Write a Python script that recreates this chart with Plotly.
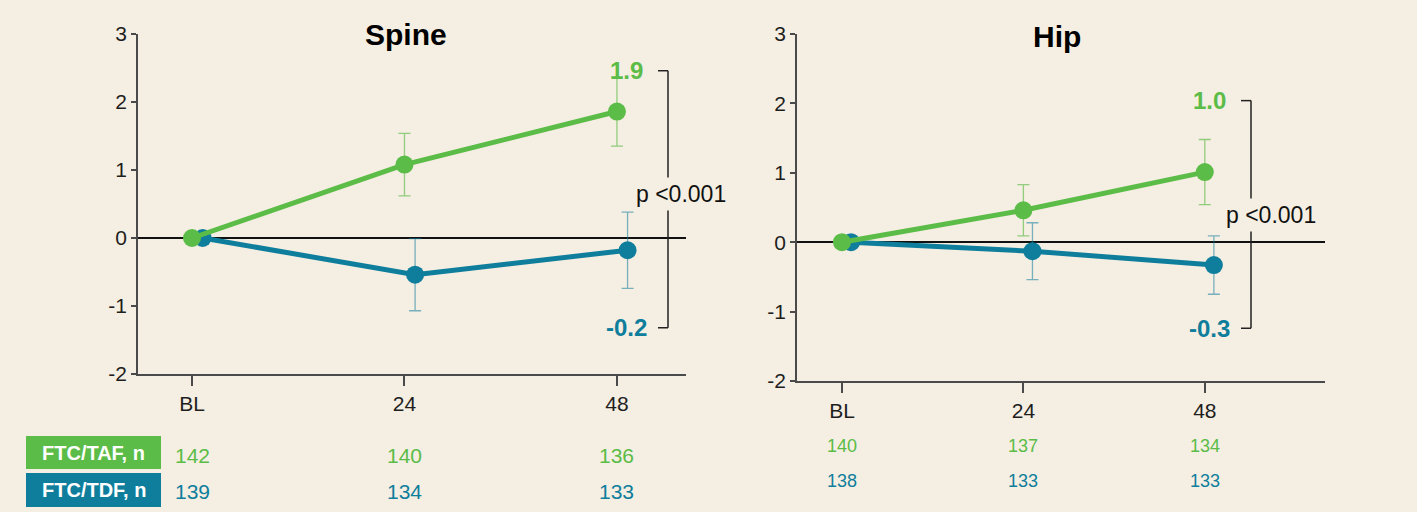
import plotly.graph_objects as go

# Weeks on treatment
weeks = [0, 24, 48]
tick_text = ["BL", "24", "48"]
y_ticks = [-2, -1, 0, 1, 2, 3]
y_tick_text = ["-2", "-1", "0", "1", "2", "3"]

# Mean % change in BMD (spine)
spine_taf = [0.0, 1.08, 1.86]
spine_taf_err = [0.0, 0.46, 0.51]
spine_tdf = [0.0, -0.54, -0.18]
spine_tdf_err = [0.0, 0.53, 0.56]

# Mean % change in BMD (hip)
hip_taf = [0.0, 0.46, 1.01]
hip_taf_err = [0.0, 0.37, 0.47]
hip_tdf = [0.0, -0.13, -0.33]
hip_tdf_err = [0.0, 0.41, 0.42]

# Patients at each visit
spine_n_taf = [142, 140, 136]
spine_n_tdf = [139, 134, 133]
hip_n_taf = [140, 137, 134]
hip_n_tdf = [138, 133, 133]

p_text = "p <0.001"

W, H = 1417, 512
BG = "#F5EEE2"
GREEN = "#5BBC47"
BLUE = "#0E7E9C"
GREEN_ERR = "rgba(91,188,71,0.65)"
BLUE_ERR = "rgba(14,126,156,0.55)"
FONT = "Liberation Sans, Arial, sans-serif"
DODGE = 1.2


def px_x(px):
    return px / W


def px_y(py):
    return 1 - py / H


fig = go.Figure()

panels = [
    dict(ax="", title="Spine", taf=spine_taf, taf_e=spine_taf_err, tdf=spine_tdf, tdf_e=spine_tdf_err,
         dom_x=(138, 686), dom_y=(34, 374), xr=(-6.1, 55.8),
         br_x=668, br_top=2.46, br_bot=-1.32, title_x=406, title_y=34,
         p_x=681, p_y=194, lab_x=626, n_taf=spine_n_taf, n_tdf=spine_n_tdf, n_y=(455, 491), n_size=21),
    dict(ax="2", title="Hip", taf=hip_taf, taf_e=hip_taf_err, tdf=hip_tdf, tdf_e=hip_tdf_err,
         dom_x=(797, 1325), dom_y=(34, 381), xr=(-5.95, 63.9),
         br_x=1251, br_top=2.04, br_bot=-1.24, title_x=1057, title_y=36,
         p_x=1271, p_y=215, lab_x=1209, n_taf=hip_n_taf, n_tdf=hip_n_tdf, n_y=(446, 481), n_size=18),
]

shapes = []
annotations = []


def note(**kw):
    kw.setdefault("showarrow", False)
    kw.setdefault("xanchor", "center")
    kw.setdefault("yanchor", "middle")
    annotations.append(kw)


for p in panels:
    xa = "x" + p["ax"]
    ya = "y" + p["ax"]
    dodged = [w + DODGE for w in weeks]
    fig.add_trace(go.Scatter(
        x=dodged, y=p["tdf"], xaxis=xa, yaxis=ya, mode="lines+markers",
        line=dict(color=BLUE, width=5), marker=dict(color=BLUE, size=18),
        error_y=dict(type="data", array=p["tdf_e"], color=BLUE_ERR, thickness=1.3, width=6),
        showlegend=False))
    fig.add_trace(go.Scatter(
        x=weeks, y=p["taf"], xaxis=xa, yaxis=ya, mode="lines+markers",
        line=dict(color=GREEN, width=5), marker=dict(color=GREEN, size=18),
        error_y=dict(type="data", array=p["taf_e"], color=GREEN_ERR, thickness=1.3, width=6),
        showlegend=False))

    axis_common = dict(showgrid=False, showline=True, linecolor="#4a4a4a", linewidth=1.5,
                       ticks="outside", tickcolor="#4a4a4a", tickwidth=1.5, automargin=False,
                       tickfont=dict(family=FONT, size=21, color="#1e1e1e"))
    fig.update_layout(**{
        "xaxis" + p["ax"]: dict(axis_common, domain=[px_x(p["dom_x"][0]), px_x(p["dom_x"][1])],
                                range=list(p["xr"]), tickvals=weeks, ticktext=tick_text,
                                ticklen=10, zeroline=False, anchor=ya),
        "yaxis" + p["ax"]: dict(axis_common, domain=[px_y(p["dom_y"][1]), px_y(p["dom_y"][0])],
                                range=[-2, 3], tickvals=y_ticks, ticktext=y_tick_text, ticklen=5,
                                zeroline=True, zerolinecolor="#111111", zerolinewidth=2, anchor=xa),
    })

    # significance bracket
    bx = px_x(p["br_x"])
    tick = 10 / W
    shapes += [
        dict(type="line", xref="paper", yref=ya, x0=bx, x1=bx, y0=p["br_bot"], y1=p["br_top"],
             line=dict(color="#222222", width=1.5)),
        dict(type="line", xref="paper", yref=ya, x0=bx - tick, x1=bx, y0=p["br_top"], y1=p["br_top"],
             line=dict(color="#222222", width=1.5)),
        dict(type="line", xref="paper", yref=ya, x0=bx - tick, x1=bx, y0=p["br_bot"], y1=p["br_bot"],
             line=dict(color="#222222", width=1.5)),
    ]
    note(text=p_text, xref="paper", yref="paper", x=px_x(p["p_x"]), y=px_y(p["p_y"]),
         bgcolor=BG, borderpad=3, font=dict(family=FONT, size=23, color="#111111"))
    # end-of-study values
    note(text=f"<b>{p['taf'][-1]:.1f}</b>", xref="paper", yref=ya, x=px_x(p["lab_x"]),
         y=p["br_top"], font=dict(family=FONT, size=24, color=GREEN))
    note(text=f"<b>{p['tdf'][-1]:.1f}</b>", xref="paper", yref=ya, x=px_x(p["lab_x"]),
         y=p["br_bot"], font=dict(family=FONT, size=24, color=BLUE))
    # panel title
    note(text=f"<b>{p['title']}</b>", xref="paper", yref="paper",
         x=px_x(p["title_x"]), y=px_y(p["title_y"]), font=dict(family=FONT, size=30, color="#000000"))
    # patient counts
    for w, a, b in zip(weeks, p["n_taf"], p["n_tdf"]):
        note(text=str(a), xref=xa, yref="paper", x=w, y=px_y(p["n_y"][0]),
             font=dict(family=FONT, size=p["n_size"], color=GREEN))
        note(text=str(b), xref=xa, yref="paper", x=w, y=px_y(p["n_y"][1]),
             font=dict(family=FONT, size=p["n_size"], color=BLUE))

# group label boxes
for label, color, (y0, y1) in [("FTC/TAF, n", GREEN, (436, 469)), ("FTC/TDF, n", BLUE, (473, 507))]:
    shapes.append(dict(type="rect", xref="paper", yref="paper", x0=px_x(26), x1=px_x(161),
                       y0=px_y(y1), y1=px_y(y0), fillcolor=color, line=dict(width=0), layer="below"))
    note(text=f"<b>{label}</b>", xref="paper", yref="paper", x=px_x(93.5),
         y=px_y((y0 + y1) / 2), font=dict(family=FONT, size=20, color="white"))

fig.update_layout(width=W, height=H, margin=dict(l=0, r=0, t=0, b=0, autoexpand=False),
                  paper_bgcolor=BG, plot_bgcolor=BG, shapes=shapes, annotations=annotations)

fig.write_html("out.html")
